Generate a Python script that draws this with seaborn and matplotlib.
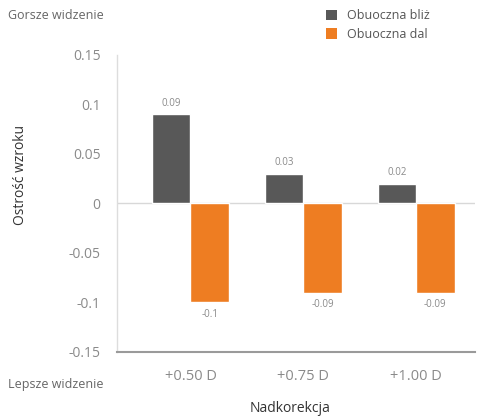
import matplotlib
matplotlib.use("Agg")
import matplotlib.pyplot as plt
import seaborn as sns
import pandas as pd
from matplotlib.patches import Patch

categories = ["+0.50 D", "+0.75 D", "+1.00 D"]
series_names = ["Obuoczna bliż", "Obuoczna dal"]
near_values = [0.09, 0.03, 0.02]
far_values = [-0.10, -0.09, -0.09]
near_labels = ["0.09", "0.03", "0.02"]
far_labels = ["-0.1", "-0.09", "-0.09"]
y_ticks = [0.15, 0.1, 0.05, 0, -0.05, -0.1, -0.15]
y_tick_labels = ["0.15", "0.1", "0.05", "0", "-0.05", "-0.1", "-0.15"]

colors = ["#585858", "#EE7D22"]

sns.set_theme(style="white")
plt.rcParams["font.family"] = ["Open Sans", "DejaVu Sans"]

df = pd.DataFrame({
    "Nadkorekcja": categories * 2,
    "value": near_values + far_values,
    "series": [series_names[0]] * 3 + [series_names[1]] * 3,
})

fig = plt.figure(figsize=(4.88, 4.16), dpi=100)
ax = fig.add_axes([0.24, 0.154, 0.733, 0.714])

sns.barplot(data=df, x="Nadkorekcja", y="value", hue="series",
            palette=colors, width=0.68, saturation=1, ax=ax, legend=False)

ax.set_ylim(-0.15, 0.15)
ax.set_xlim(-0.65, 2.52)
ax.set_yticks(y_ticks)
ax.set_yticklabels(y_tick_labels, color="#8a8a8a", fontsize=10)
ax.set_xticks(range(len(categories)))
ax.set_xticklabels(categories, color="#8a8a8a", fontsize=10.5)
ax.tick_params(axis="y", length=4, color="#cccccc", pad=8)
ax.tick_params(axis="x", length=0, pad=12)
ax.set_xlabel("")
ax.set_ylabel("")

for side in ["top", "right"]:
    ax.spines[side].set_visible(False)
ax.spines["left"].set_color("#dddddd")
ax.spines["left"].set_linewidth(1)
ax.spines["bottom"].set_color("#9a9a9a")
ax.spines["bottom"].set_linewidth(1.5)
ax.axhline(0, color="#d8d8d8", linewidth=1, zorder=0.5)

# value labels above the positive bars and below the negative ones
for cont, labels in zip(ax.containers, [near_labels, far_labels]):
    for bar, lab in zip(cont, labels):
        x = bar.get_x() + bar.get_width() / 2
        y0 = bar.get_y()
        y1 = y0 + bar.get_height()
        if bar.get_height() >= 0:
            ax.annotate(lab, (x, max(y0, y1)), xytext=(0, 4),
                        textcoords="offset points", ha="center", va="bottom",
                        fontsize=7, color="#8a8a8a")
        else:
            ax.annotate(lab, (x, min(y0, y1)), xytext=(0, -5),
                        textcoords="offset points", ha="center", va="top",
                        fontsize=7, color="#8a8a8a")

fig.text(0.016, 0.963, "Gorsze widzenie", fontsize=9, color="#666666",
         ha="left", va="center")
fig.text(0.016, 0.075, "Lepsze widzenie", fontsize=9, color="#666666",
         ha="left", va="center")
fig.text(0.043, 0.58, "Ostrość wzroku", fontsize=10, color="#333333",
         rotation=90, ha="center", va="center")
fig.text(0.595, 0.018, "Nadkorekcja", fontsize=10, color="#333333",
         ha="center", va="center")

handles = [Patch(facecolor=c, edgecolor="none") for c in colors]
fig.legend(handles, series_names, loc="upper left",
           bbox_to_anchor=(0.645, 1.005), frameon=False, fontsize=9,
           labelcolor="#555555", handlelength=0.9, handleheight=0.9,
           handletextpad=0.8, labelspacing=0.45)

fig.savefig("out.png", dpi=100)
